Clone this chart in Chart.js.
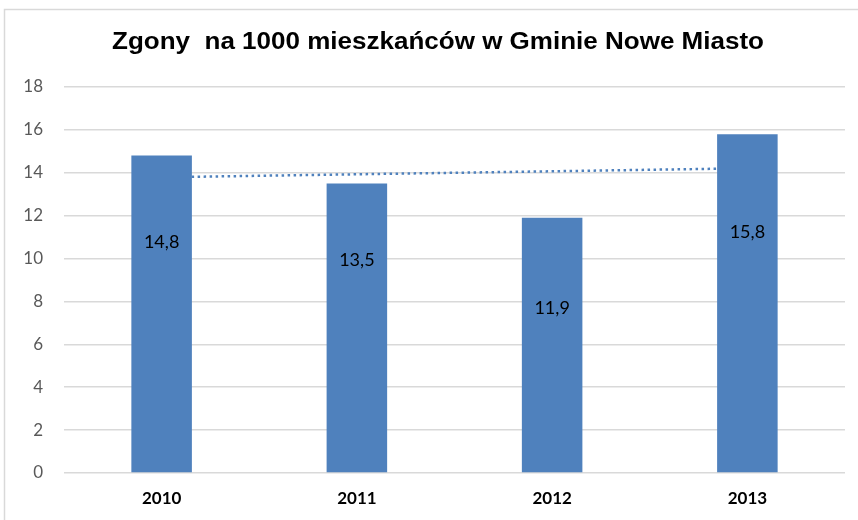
<!DOCTYPE html>
<html>
<head>
<meta charset="utf-8">
<script src="https://cdn.jsdelivr.net/npm/chart.js@4/dist/chart.umd.min.js"></script>
<style>
  html, body { margin: 0; padding: 0; background: #fff; }
  #wrap { position: absolute; left: 0; top: 0; width: 858px; height: 520px; }
</style>
</head>
<body>
<div id="wrap"><canvas id="c" width="858" height="520"></canvas></div>
<script>
const categories = ['2010', '2011', '2012', '2013'];
const deaths = [14.8, 13.5, 11.9, 15.8];
const trend = [13.79, 13.93, 14.07, 14.21];
const valueLabels = ['14,8', '13,5', '11,9', '15,8'];
const yTicks = [0, 2, 4, 6, 8, 10, 12, 14, 16, 18];
const titleText = 'Zgony  na 1000 mieszkańców w Gminie Nowe Miasto';

const frame = {
  id: 'frame',
  beforeDraw(chart) {
    const ctx = chart.ctx;
    ctx.save();
    ctx.strokeStyle = '#d9d9d9';
    ctx.lineWidth = 1.5;
    ctx.beginPath();
    ctx.moveTo(4.5, 520);
    ctx.lineTo(4.5, 9.5);
    ctx.lineTo(858, 9.5);
    ctx.stroke();
    ctx.restore();
  }
};

const wideTitle = {
  id: 'wideTitle',
  afterDraw(chart, args, opts) {
    const ctx = chart.ctx;
    ctx.save();
    ctx.font = 'bold 23px "Liberation Sans"';
    ctx.fillStyle = '#000';
    ctx.textBaseline = 'alphabetic';
    ctx.textAlign = 'left';
    const w = ctx.measureText(titleText).width;
    const sx = opts.width / w;
    ctx.translate(opts.left, opts.baseline);
    ctx.scale(sx, 1);
    ctx.fillText(titleText, 0, 0);
    ctx.restore();
  }
};

const inBarLabels = {
  id: 'inBarLabels',
  afterDatasetsDraw(chart, args, opts) {
    const meta = chart.getDatasetMeta(0);
    const ys = chart.scales.y;
    const ctx = chart.ctx;
    ctx.save();
    ctx.font = '18px Lato';
    ctx.fillStyle = '#000';
    ctx.textAlign = 'center';
    ctx.textBaseline = 'middle';
    meta.data.forEach((bar, i) => {
      const v = deaths[i] * opts.frac[i];
      ctx.fillText(valueLabels[i], bar.x, ys.getPixelForValue(v));
    });
    ctx.restore();
  }
};

new Chart(document.getElementById('c'), {
  data: {
    labels: categories,
    datasets: [
      {
        type: 'bar',
        data: deaths,
        backgroundColor: '#4F81BD',
        barPercentage: 0.31,
        categoryPercentage: 1,
        order: 1
      },
      {
        type: 'line',
        data: trend,
        borderColor: '#4F81BD',
        borderWidth: 2.5,
        borderDash: [2.5, 3.5],
        pointRadius: 0,
        fill: false,
        order: 2
      }
    ]
  },
  options: {
    responsive: false,
    animation: false,
    devicePixelRatio: 1,
    layout: { padding: { left: 0, right: 13, top: 87, bottom: 0 } },
    plugins: {
      legend: { display: false },
      tooltip: { enabled: false },
      title: { display: false },
      wideTitle: { left: 112, width: 652, baseline: 49 },
      inBarLabels: { frac: [0.727, 0.736, 0.647, 0.711] }
    },
    scales: {
      x: {
        grid: { display: false, drawTicks: false },
        border: { display: false },
        ticks: {
          color: '#000',
          font: { family: 'Lato', size: 17, weight: 'bold' },
          padding: 15
        },
        afterFit(s) { s.height = 47; }
      },
      y: {
        min: 0,
        max: 18,
        afterBuildTicks(s) { s.ticks = yTicks.map(v => ({ value: v })); },
        grid: { color: '#d9d9d9', lineWidth: 1.5, drawTicks: false },
        border: { display: false },
        ticks: {
          color: '#595959',
          font: { family: 'Lato', size: 17 },
          padding: 21
        },
        afterFit(s) { s.width = 64; }
      }
    }
  },
  plugins: [frame, wideTitle, inBarLabels]
});
</script>
</body>
</html>
